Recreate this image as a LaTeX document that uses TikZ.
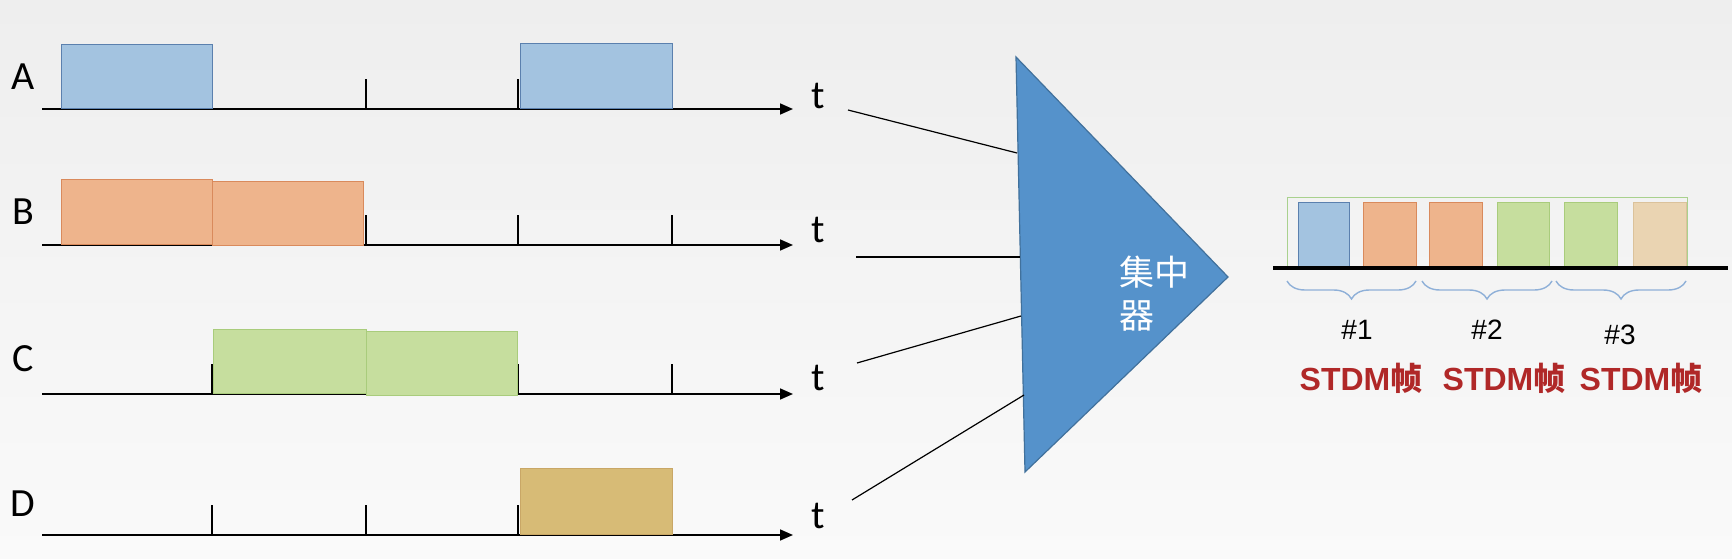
\documentclass[tikz,border=0pt]{standalone}
\usepackage{fontspec}
\setmainfont{Carlito}
\newfontfamily\cjk{Noto Sans CJK SC}
\newfontfamily\arialf{Liberation Sans}
\usetikzlibrary{arrows.meta,decorations.pathreplacing}
\definecolor{bgtop}{HTML}{EEEEEE}
\definecolor{bgbot}{HTML}{FAFAFA}
\definecolor{pA}{HTML}{A3C3E0}
\definecolor{pAd}{HTML}{5B80AE}
\definecolor{pB}{HTML}{EEB48C}
\definecolor{pBd}{HTML}{D98A5C}
\definecolor{pC}{HTML}{C6DE9E}
\definecolor{pCd}{HTML}{A9CC7C}
\definecolor{pD}{HTML}{D7BB76}
\definecolor{pDd}{HTML}{C9A766}
\definecolor{pE}{HTML}{EAD4B2}
\definecolor{pEd}{HTML}{DBC29B}
\definecolor{tri}{HTML}{5592CB}
\definecolor{trid}{HTML}{41719C}
\definecolor{frm}{HTML}{A9D18E}
\definecolor{brc}{HTML}{8FB0D8}
\definecolor{stdm}{RGB}{176,40,40}
\begin{document}
\begin{tikzpicture}[x=1pt,y=-1pt,
  pulse/.style={draw, line width=1.2pt, inner sep=0pt, minimum height=64pt, anchor=south west},
  pa/.style={pulse, fill=pA, draw=pAd},
  pb/.style={pulse, fill=pB, draw=pBd},
  pc/.style={pulse, fill=pC, draw=pCd},
  pd/.style={pulse, fill=pD, draw=pDd},
  slot/.style={draw, line width=1.2pt, inner sep=0pt, minimum height=64pt, anchor=north west},
  axisline/.style={line width=1.6pt, -{Triangle[length=13pt,width=11pt]}},
  tickline/.style={line width=1.3pt},
  lbl/.style={font=\fontsize{40}{44}\selectfont, inner sep=0pt},
  feed/.style={line width=1.2pt},
  brc/.style={draw=brc, line width=1.4pt, decorate, decoration={brace, mirror, amplitude=18pt}},
  numlbl/.style={font=\arialf\fontsize{28}{32}\selectfont, inner sep=0pt},
  stdmlbl/.style={font=\bfseries\fontsize{32}{36}\selectfont, text=stdm, inner sep=0pt},
]
\shade[top color=bgtop, bottom color=bgbot] (0,0) rectangle (1732,559);
\useasboundingbox (0,0) rectangle (1732,559);

% ---- ticks (drawn under pulses)
\foreach \y in {109,245,394,535}{
  \foreach \x in {212,366,518,672}{
    \draw[tickline] (\x,\y) -- (\x,\y-30);
  }
}

% ---- axes
\coordinate (A0) at (42,109);  \coordinate (A1) at (793,109);
\coordinate (B0) at (42,245);  \coordinate (B1) at (793,245);
\coordinate (C0) at (42,394);  \coordinate (C1) at (793,394);
\coordinate (D0) at (42,535);  \coordinate (D1) at (793,535);
\draw[axisline] (A0) -- (A1);
\draw[axisline] (B0) -- (B1);
\draw[axisline] (C0) -- (C1);
\draw[axisline] (D0) -- (D1);

% ---- pulses
\node[pa, minimum width=151pt] (a1) at (61,109) {};
\node[pa, minimum width=152pt, minimum height=65pt] (a2) at (520,109) {};
\node[pb, minimum width=151pt, minimum height=65pt] (b1) at (61,245) {};
\node[pb, minimum width=151pt] (b2) at (212,246) {};
\node[pc, minimum width=153pt] (c1) at (213,394) {};
\node[pc, minimum width=151pt] (c2) at (366,396) {};
\node[pd, minimum width=152pt, minimum height=66pt] (d1) at (520,535) {};

% ---- row labels
\node[lbl] (LA) at (23,77) {A};
\node[lbl] (LB) at (23,212) {B};
\node[lbl] (LC) at (23,359) {C};
\node[lbl] (LD) at (23,504) {D};
\node[lbl] (tA) at (818,96) {t};
\node[lbl] (tB) at (818,230) {t};
\node[lbl] (tC) at (818,378) {t};
\node[lbl] (tD) at (818,516) {t};

% ---- concentrator
\coordinate (T1) at (1016,57);
\coordinate (T2) at (1228,277);
\coordinate (T3) at (1025,472);
\draw[fill=tri, draw=trid, line width=1.2pt] (T1) -- (T2) -- (T3) -- cycle;
\node[font=\cjk\fontsize{35}{43}\selectfont, text=white, align=left, inner sep=0pt] (conc) at (1154,294) {集中\\器};

% ---- feed lines
\coordinate (F1s) at (848,110);  \coordinate (F1e) at (1017,153);
\coordinate (F2s) at (856,257);  \coordinate (F2e) at (1020,257);
\coordinate (F3s) at (857,363);  \coordinate (F3e) at (1021,316);
\coordinate (F4s) at (852,500);  \coordinate (F4e) at (1024,395);
\draw[feed] (F1s) -- (F1e);
\draw[feed] (F2s) -- (F2e);
\draw[feed] (F3s) -- (F3e);
\draw[feed] (F4s) -- (F4e);

% ---- STDM frame
\node[draw=frm, line width=1.4pt, inner sep=0pt, minimum width=400pt, minimum height=69pt, anchor=north west] (frame) at (1287,197) {};
\node[slot, fill=pA, draw=pAd, minimum width=51pt] (s1) at (1298,202) {};
\node[slot, fill=pB, draw=pBd, minimum width=53pt] (s2) at (1363,202) {};
\node[slot, fill=pB, draw=pBd, minimum width=53pt] (s3) at (1429,202) {};
\node[slot, fill=pC, draw=pCd, minimum width=52pt] (s4) at (1497,202) {};
\node[slot, fill=pC, draw=pCd, minimum width=53pt] (s5) at (1564,202) {};
\node[slot, fill=pE, draw=pEd, minimum width=53pt] (s6) at (1633,202) {};
\coordinate (L0) at (1273,268);
\coordinate (L1) at (1728,268);
\draw[line width=4pt] (L0) -- (L1);

% ---- braces
\coordinate (Br1a) at (1287,281); \coordinate (Br1b) at (1416,281);
\coordinate (Br2a) at (1422,281); \coordinate (Br2b) at (1552,281);
\coordinate (Br3a) at (1556,281); \coordinate (Br3b) at (1686,281);
\draw[brc] (Br1a) -- (Br1b);
\draw[brc] (Br2a) -- (Br2b);
\draw[brc] (Br3a) -- (Br3b);

\node[numlbl] (n1) at (1357,330) {\#1};
\node[numlbl] (n2) at (1487,330) {\#2};
\node[numlbl] (n3) at (1620,335) {\#3};
\node[stdmlbl] (f1) at (1361,378) {{\arialf STDM}{\cjk 帧}};
\node[stdmlbl] (f2) at (1504,378) {{\arialf STDM}{\cjk 帧}};
\node[stdmlbl] (f3) at (1641,378) {{\arialf STDM}{\cjk 帧}};
\end{tikzpicture}
\end{document}
